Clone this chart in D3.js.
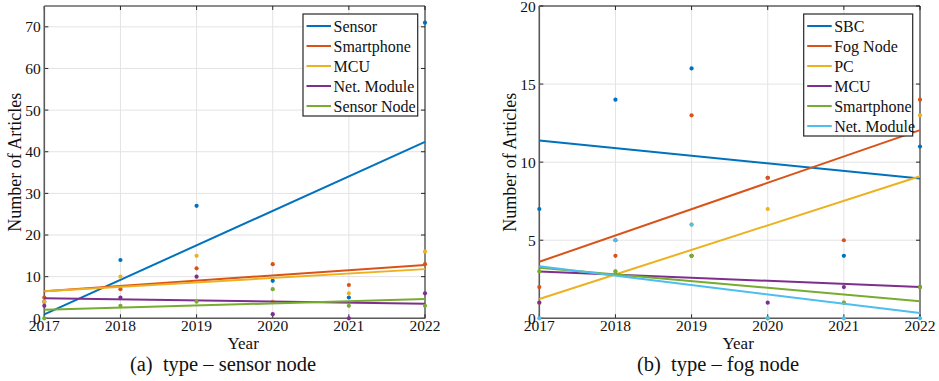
<!DOCTYPE html>
<html>
<head>
<meta charset="utf-8">
<script src="https://cdn.jsdelivr.net/npm/d3@7"></script>
<style>
  html, body { margin: 0; padding: 0; background: #fff; }
  svg { display: block; }
</style>
</head>
<body>
<svg id="chart" width="939" height="381"></svg>
<script>
// Publication years shared by both panels
const years = [2017, 2018, 2019, 2020, 2021, 2022];

// (a) sensor-node device types: articles per year
const sensorNames = ["Sensor", "Smartphone", "MCU", "Net. Module", "Sensor Node"];
const sensorSensor     = [4, 14, 27, 9, 5, 71];
const sensorSmartphone = [5, 7, 12, 13, 8, 13];
const sensorMCU        = [4, 10, 15, 4, 6, 16];
const sensorNetModule  = [3, 5, 10, 1, 0, 6];
const sensorSensorNode = [0, 3, 4, 7, 3, 3];
const sensorYTicks = [0, 10, 20, 30, 40, 50, 60, 70];

// (b) fog-node device types: articles per year
const fogNames = ["SBC", "Fog Node", "PC", "MCU", "Smartphone", "Net. Module"];
const fogSBC        = [7, 14, 16, 9, 4, 11];
const fogFogNode    = [2, 4, 13, 9, 5, 14];
const fogPC         = [1, 3, 6, 7, 1, 13];
const fogMCU        = [1, 5, 4, 1, 2, 2];
const fogSmartphone = [3, 3, 4, 0, 1, 2];
const fogNetModule  = [0, 5, 6, 0, 0, 0];
const fogYTicks = [0, 5, 10, 15, 20];

// MATLAB default colour order
const colors = ["#0072BD", "#D95319", "#EDB120", "#7E2F8E", "#77AC30", "#4DBEEE"];

const FONT = '"Liberation Serif"';
const svg = d3.select("#chart");

// Least-squares line through one series
function fit(xs, ys) {
  const mx = d3.mean(xs), my = d3.mean(ys);
  let sxy = 0, sxx = 0;
  xs.forEach((x, i) => { sxy += (x - mx) * (ys[i] - my); sxx += (x - mx) * (x - mx); });
  const b = sxy / sxx;
  return x => my + b * (x - mx);
}

function label(sel) {
  return sel.style("font-family", FONT).attr("fill", "#111");
}

function panel(opts) {
  const { left, right, top, bottom, yMax, yTicks, names, series, caption, captionX, legendBox } = opts;
  const g = svg.append("g");
  const x = d3.scaleLinear().domain([2017, 2022]).range([left, right]);
  const y = d3.scaleLinear().domain([0, yMax]).range([bottom, top]);

  // grid
  g.append("g").selectAll("line").data(years).join("line")
    .attr("x1", d => x(d)).attr("x2", d => x(d)).attr("y1", top).attr("y2", bottom)
    .attr("stroke", "#e3e3e3").attr("stroke-width", 1);
  g.append("g").selectAll("line").data(yTicks).join("line")
    .attr("x1", left).attr("x2", right).attr("y1", d => y(d)).attr("y2", d => y(d))
    .attr("stroke", "#e3e3e3").attr("stroke-width", 1);

  // inward ticks on all four sides
  const tl = 4;
  const ticks = g.append("g").attr("stroke", "#262626").attr("stroke-width", 1);
  yTicks.forEach(t => {
    ticks.append("line").attr("x1", left).attr("x2", left + tl).attr("y1", y(t)).attr("y2", y(t));
    ticks.append("line").attr("x1", right).attr("x2", right - tl).attr("y1", y(t)).attr("y2", y(t));
  });
  years.forEach(t => {
    ticks.append("line").attr("x1", x(t)).attr("x2", x(t)).attr("y1", bottom).attr("y2", bottom - tl);
    ticks.append("line").attr("x1", x(t)).attr("x2", x(t)).attr("y1", top).attr("y2", top + tl);
  });

  // box
  g.append("line").attr("x1", left).attr("x2", right).attr("y1", top).attr("y2", top)
    .attr("stroke", "#1a1a1a").attr("stroke-width", 1);
  g.append("line").attr("x1", right).attr("x2", right).attr("y1", top).attr("y2", bottom)
    .attr("stroke", "#1a1a1a").attr("stroke-width", 1);
  g.append("line").attr("x1", left).attr("x2", left).attr("y1", top).attr("y2", bottom)
    .attr("stroke", "#5a5a5a").attr("stroke-width", 1.6);
  g.append("line").attr("x1", left).attr("x2", right).attr("y1", bottom).attr("y2", bottom)
    .attr("stroke", "#5a5a5a").attr("stroke-width", 1.6);

  // tick labels
  label(g.append("g").selectAll("text").data(yTicks).join("text"))
    .attr("x", left - 3.5).attr("y", d => Math.max(y(d), 7)).attr("dy", "0.35em")
    .attr("text-anchor", "end").attr("font-size", 15.5)
    .text(d => d);
  label(g.append("g").selectAll("text").data(years).join("text"))
    .attr("x", d => x(d)).attr("y", bottom + 13)
    .attr("text-anchor", "middle").attr("font-size", 15.5)
    .text(d => d);

  // axis titles
  label(g.append("text")).attr("x", (left + right) / 2 + 8.5).attr("y", bottom + 31)
    .attr("text-anchor", "middle").attr("font-size", 17).text("Year");
  label(g.append("text"))
    .attr("transform", `translate(${left - 23.5},${(top + bottom) / 2}) rotate(-90)`)
    .attr("text-anchor", "middle").attr("font-size", 18)
    .text("Number of Articles");

  // data: points then fitted line, series by series
  series.forEach((vals, i) => {
    const f = fit(years, vals);
    g.append("g").selectAll("circle").data(vals).join("circle")
      .attr("cx", (d, j) => x(years[j])).attr("cy", d => y(d)).attr("r", 2.1)
      .attr("fill", colors[i]);
    g.append("line")
      .attr("x1", x(2017)).attr("y1", y(f(2017)))
      .attr("x2", x(2022)).attr("y2", y(f(2022)))
      .attr("stroke", colors[i]).attr("stroke-width", 2);
  });

  // legend
  const lb = legendBox;
  const lg = g.append("g");
  lg.append("rect").attr("x", lb.x).attr("y", lb.y).attr("width", lb.w).attr("height", names.length * 20 + 2)
    .attr("fill", "#fff").attr("stroke", "#262626").attr("stroke-width", 1.2);
  names.forEach((n, i) => {
    const cy = lb.y + 12 + i * 20;
    lg.append("line").attr("x1", lb.x + 3.5).attr("x2", lb.x + 28).attr("y1", cy).attr("y2", cy)
      .attr("stroke", colors[i]).attr("stroke-width", 2);
    label(lg.append("text")).attr("x", lb.x + 30.5).attr("y", cy).attr("dy", "0.35em")
      .attr("font-size", 16).text(n);
  });

  // caption
  label(svg.append("text")).attr("x", captionX).attr("y", 371).attr("text-anchor", "middle")
    .attr("font-size", 20.5).style("white-space", "pre").text(caption);
}

panel({
  left: 44.3, right: 425, top: 6, bottom: 318.3, yMax: 75, yTicks: sensorYTicks,
  names: sensorNames,
  series: [sensorSensor, sensorSmartphone, sensorMCU, sensorNetModule, sensorSensorNode],
  caption: "(a)  type \u2013 sensor node", captionX: 223,
  legendBox: { x: 303, y: 14, w: 114.7 }
});

panel({
  left: 539.3, right: 920, top: 6, bottom: 318.3, yMax: 20, yTicks: fogYTicks,
  names: fogNames,
  series: [fogSBC, fogFogNode, fogPC, fogMCU, fogSmartphone, fogNetModule],
  caption: "(b)  type \u2013 fog node", captionX: 718,
  legendBox: { x: 803.7, y: 14, w: 109 }
});
</script>
</body>
</html>
